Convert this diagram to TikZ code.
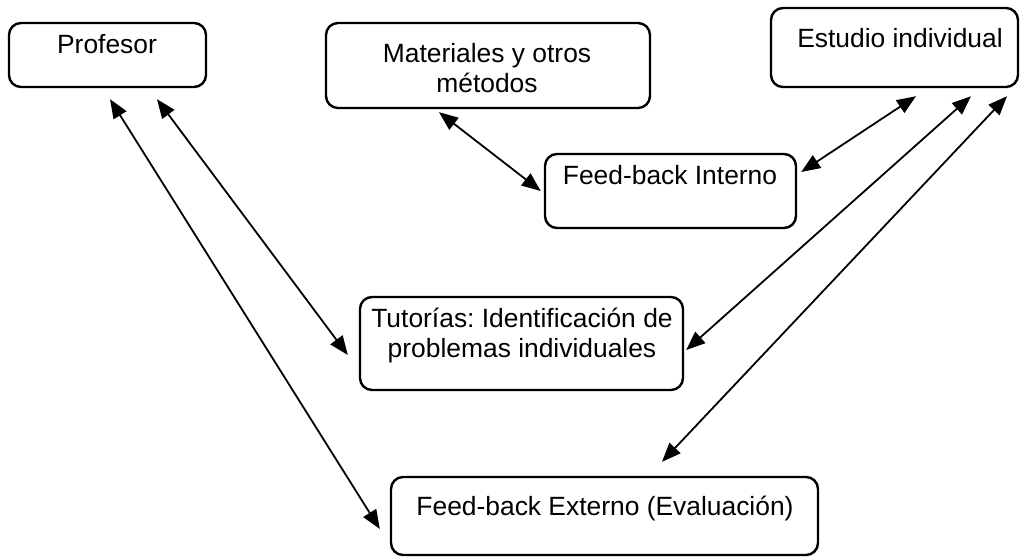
\documentclass[tikz,border=0pt]{standalone}
\usepackage{fontspec}
\setmainfont{Liberation Sans}
\usetikzlibrary{arrows.meta}
\frenchspacing
\begin{document}
\begin{tikzpicture}[x=1pt,y=-1pt,
  box/.style={draw, line width=2.4pt, rounded corners=12pt, inner sep=0pt},
  lbl/.style={inner sep=0pt, anchor=base, align=center,
    font=\fontsize{26.4}{29.5}\selectfont},
  link/.style={line width=1.8pt,
    {Triangle[length=19pt,width=15pt]}-{Triangle[length=19pt,width=15pt]}}]
\useasboundingbox (0,0) rectangle (1020,557);

% boxes
\node[box, minimum width=197pt, minimum height=64pt] (prof) at (107.5,55) {};
\node[box, minimum width=324pt, minimum height=85pt] (mat) at (488,65.5) {};
\node[box, minimum width=247pt, minimum height=79pt] (est) at (894.5,47.5) {};
\node[box, minimum width=251pt, minimum height=74pt] (int) at (670.5,191) {};
\node[box, minimum width=323pt, minimum height=93pt] (tut) at (521.5,343.5) {};
\node[box, minimum width=427pt, minimum height=78pt] (ext) at (604.5,516) {};

% labels, set near the top of each box (base = last line's baseline)
\node[lbl] (profT) at (107,53) {Profesor};
\node[lbl] (matT) at (487,92) {Materiales y otros\\métodos};
\node[lbl] (estT) at (900,47) {Estudio individual};
\node[lbl] (intT) at (670,184) {Feed-back Interno};
\node[lbl] (tutT) at (522,357) {Tutorías: Identificación de\\problemas individuales};
\node[lbl] (extT) at (605,515) {Feed-back Externo (Evaluación)};

% connector ends, just off the box borders
\coordinate (p1) at ([shift={(2.5,11)}]prof.south);
\coordinate (p2) at ([shift={(49.5,11)}]prof.south);
\coordinate (e1) at ([shift={(-10,13)}]ext.west);
\coordinate (e2) at ([shift={(57.5,-14)}]ext.north);
\coordinate (t1) at ([shift={(-11,11.5)}]tut.west);
\coordinate (t2) at ([shift={(2,6.5)}]tut.east);
\coordinate (m1) at ([shift={(-49,3)}]mat.south);
\coordinate (i1) at ([shift={(-3,0)}]int.west);
\coordinate (i2) at ([shift={(4,-19)}]int.east);
\coordinate (s1) at ([shift={(21.5,8)}]est.south);
\coordinate (s2) at ([shift={(76.5,8)}]est.south);
\coordinate (s3) at ([shift={(112.5,8)}]est.south);

% two-way links
\draw[link] (p1) -- (e1);
\draw[link] (p2) -- (t1);
\draw[link] (m1) -- (i1);
\draw[link] (i2) -- (s1);
\draw[link] (s2) -- (t2);
\draw[link] (s3) -- (e2);
\end{tikzpicture}
\end{document}
